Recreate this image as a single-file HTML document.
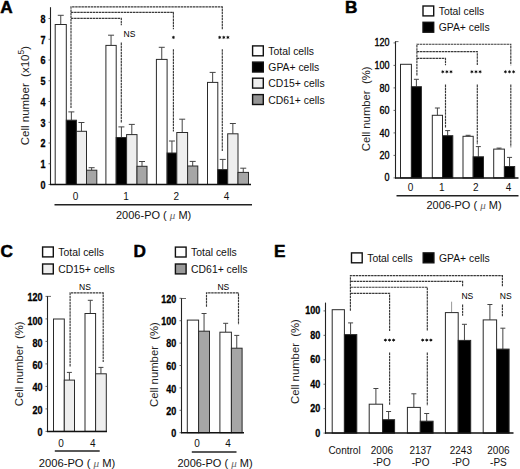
<!DOCTYPE html>
<html><head><meta charset="utf-8"><style>
html,body{margin:0;padding:0;background:#fff;}
body{width:520px;height:469px;overflow:hidden;font-family:"Liberation Sans",sans-serif;}
svg{display:block;}
</style></head><body>
<svg width="520" height="469" viewBox="0 0 520 469">
<rect width="520" height="469" fill="#fff"/>
<text x="0.2" y="12.8" font-family="Liberation Sans" font-size="17.2" font-weight="bold" text-anchor="start" fill="#000" stroke="#000" stroke-width="0.5">A</text>
<line x1="50.5" y1="7.2" x2="50.5" y2="185" stroke="#222" stroke-width="1.1" />
<line x1="48.5" y1="184.5" x2="50.5" y2="184.5" stroke="#444" stroke-width="0.8" />
<text x="45.5" y="188.9" font-family="Liberation Sans" font-size="10" font-weight="bold" text-anchor="end" fill="#000" stroke="#000" stroke-width="0.3" textLength="5" lengthAdjust="spacingAndGlyphs">0</text>
<line x1="48.5" y1="163.75" x2="50.5" y2="163.75" stroke="#444" stroke-width="0.8" />
<text x="45.5" y="168.15" font-family="Liberation Sans" font-size="10" font-weight="bold" text-anchor="end" fill="#000" stroke="#000" stroke-width="0.3" textLength="5" lengthAdjust="spacingAndGlyphs">1</text>
<line x1="48.5" y1="143" x2="50.5" y2="143" stroke="#444" stroke-width="0.8" />
<text x="45.5" y="147.4" font-family="Liberation Sans" font-size="10" font-weight="bold" text-anchor="end" fill="#000" stroke="#000" stroke-width="0.3" textLength="5" lengthAdjust="spacingAndGlyphs">2</text>
<line x1="48.5" y1="122.25" x2="50.5" y2="122.25" stroke="#444" stroke-width="0.8" />
<text x="45.5" y="126.65" font-family="Liberation Sans" font-size="10" font-weight="bold" text-anchor="end" fill="#000" stroke="#000" stroke-width="0.3" textLength="5" lengthAdjust="spacingAndGlyphs">3</text>
<line x1="48.5" y1="101.5" x2="50.5" y2="101.5" stroke="#444" stroke-width="0.8" />
<text x="45.5" y="105.9" font-family="Liberation Sans" font-size="10" font-weight="bold" text-anchor="end" fill="#000" stroke="#000" stroke-width="0.3" textLength="5" lengthAdjust="spacingAndGlyphs">4</text>
<line x1="48.5" y1="80.75" x2="50.5" y2="80.75" stroke="#444" stroke-width="0.8" />
<text x="45.5" y="85.15" font-family="Liberation Sans" font-size="10" font-weight="bold" text-anchor="end" fill="#000" stroke="#000" stroke-width="0.3" textLength="5" lengthAdjust="spacingAndGlyphs">5</text>
<line x1="48.5" y1="60" x2="50.5" y2="60" stroke="#444" stroke-width="0.8" />
<text x="45.5" y="64.4" font-family="Liberation Sans" font-size="10" font-weight="bold" text-anchor="end" fill="#000" stroke="#000" stroke-width="0.3" textLength="5" lengthAdjust="spacingAndGlyphs">6</text>
<line x1="48.5" y1="39.25" x2="50.5" y2="39.25" stroke="#444" stroke-width="0.8" />
<text x="45.5" y="43.65" font-family="Liberation Sans" font-size="10" font-weight="bold" text-anchor="end" fill="#000" stroke="#000" stroke-width="0.3" textLength="5" lengthAdjust="spacingAndGlyphs">7</text>
<line x1="48.5" y1="18.5" x2="50.5" y2="18.5" stroke="#444" stroke-width="0.8" />
<text x="45.5" y="22.9" font-family="Liberation Sans" font-size="10" font-weight="bold" text-anchor="end" fill="#000" stroke="#000" stroke-width="0.3" textLength="5" lengthAdjust="spacingAndGlyphs">8</text>
<text x="0" y="0" font-family="Liberation Sans" font-size="11.5" text-anchor="middle" fill="#222" transform="translate(24.6 95.6) rotate(-90)" dominant-baseline="central">Cell number  (x10<tspan font-size="8.5" dy="-3.2">5</tspan><tspan dy="3.2">)</tspan></text>
<line x1="60.75" y1="24.5" x2="60.75" y2="15.3" stroke="#444" stroke-width="1" />
<line x1="57.75" y1="15.3" x2="63.75" y2="15.3" stroke="#444" stroke-width="1" />
<line x1="71.35" y1="120.2" x2="71.35" y2="111.9" stroke="#444" stroke-width="1" />
<line x1="68.35" y1="111.9" x2="74.35" y2="111.9" stroke="#444" stroke-width="1" />
<line x1="81.45" y1="131.3" x2="81.45" y2="122.5" stroke="#444" stroke-width="1" />
<line x1="78.45" y1="122.5" x2="84.45" y2="122.5" stroke="#444" stroke-width="1" />
<line x1="91.65" y1="170.2" x2="91.65" y2="167.7" stroke="#444" stroke-width="1" />
<line x1="88.65" y1="167.7" x2="94.65" y2="167.7" stroke="#444" stroke-width="1" />
<line x1="111.05" y1="45.4" x2="111.05" y2="35.2" stroke="#444" stroke-width="1" />
<line x1="108.05" y1="35.2" x2="114.05" y2="35.2" stroke="#444" stroke-width="1" />
<line x1="121.4" y1="137.5" x2="121.4" y2="126.9" stroke="#444" stroke-width="1" />
<line x1="118.4" y1="126.9" x2="124.4" y2="126.9" stroke="#444" stroke-width="1" />
<line x1="131.8" y1="134.6" x2="131.8" y2="124.4" stroke="#444" stroke-width="1" />
<line x1="128.8" y1="124.4" x2="134.8" y2="124.4" stroke="#444" stroke-width="1" />
<line x1="142" y1="166.3" x2="142" y2="161.5" stroke="#444" stroke-width="1" />
<line x1="139" y1="161.5" x2="145" y2="161.5" stroke="#444" stroke-width="1" />
<line x1="161.75" y1="59.4" x2="161.75" y2="47.3" stroke="#444" stroke-width="1" />
<line x1="158.75" y1="47.3" x2="164.75" y2="47.3" stroke="#444" stroke-width="1" />
<line x1="171.95" y1="153" x2="171.95" y2="141" stroke="#444" stroke-width="1" />
<line x1="168.95" y1="141" x2="174.95" y2="141" stroke="#444" stroke-width="1" />
<line x1="182.2" y1="132.5" x2="182.2" y2="119.2" stroke="#444" stroke-width="1" />
<line x1="179.2" y1="119.2" x2="185.2" y2="119.2" stroke="#444" stroke-width="1" />
<line x1="192.7" y1="166" x2="192.7" y2="161.4" stroke="#444" stroke-width="1" />
<line x1="189.7" y1="161.4" x2="195.7" y2="161.4" stroke="#444" stroke-width="1" />
<line x1="212.65" y1="82.4" x2="212.65" y2="72.4" stroke="#444" stroke-width="1" />
<line x1="209.65" y1="72.4" x2="215.65" y2="72.4" stroke="#444" stroke-width="1" />
<line x1="222.75" y1="169.6" x2="222.75" y2="159.4" stroke="#444" stroke-width="1" />
<line x1="219.75" y1="159.4" x2="225.75" y2="159.4" stroke="#444" stroke-width="1" />
<line x1="232.85" y1="133.8" x2="232.85" y2="123.5" stroke="#444" stroke-width="1" />
<line x1="229.85" y1="123.5" x2="235.85" y2="123.5" stroke="#444" stroke-width="1" />
<line x1="243.25" y1="172.4" x2="243.25" y2="168.2" stroke="#444" stroke-width="1" />
<line x1="240.25" y1="168.2" x2="246.25" y2="168.2" stroke="#444" stroke-width="1" />
<rect x="55.2" y="24.5" width="11.1" height="160" fill="#ffffff" stroke="#2a2a2a" stroke-width="1"/>
<rect x="66.3" y="120.2" width="10.1" height="64.3" fill="#000000" stroke="#2a2a2a" stroke-width="1"/>
<rect x="76.4" y="131.3" width="10.1" height="53.2" fill="#eeeeee" stroke="#2a2a2a" stroke-width="1"/>
<rect x="86.5" y="170.2" width="10.3" height="14.3" fill="#a6a6a6" stroke="#2a2a2a" stroke-width="1"/>
<rect x="105.9" y="45.4" width="10.3" height="139.1" fill="#ffffff" stroke="#2a2a2a" stroke-width="1"/>
<rect x="116.2" y="137.5" width="10.4" height="47" fill="#000000" stroke="#2a2a2a" stroke-width="1"/>
<rect x="126.6" y="134.6" width="10.4" height="49.9" fill="#eeeeee" stroke="#2a2a2a" stroke-width="1"/>
<rect x="137" y="166.3" width="10" height="18.2" fill="#a6a6a6" stroke="#2a2a2a" stroke-width="1"/>
<rect x="156.4" y="59.4" width="10.7" height="125.1" fill="#ffffff" stroke="#2a2a2a" stroke-width="1"/>
<rect x="167.1" y="153" width="9.7" height="31.5" fill="#000000" stroke="#2a2a2a" stroke-width="1"/>
<rect x="176.8" y="132.5" width="10.8" height="52" fill="#eeeeee" stroke="#2a2a2a" stroke-width="1"/>
<rect x="187.6" y="166" width="10.2" height="18.5" fill="#a6a6a6" stroke="#2a2a2a" stroke-width="1"/>
<rect x="207.5" y="82.4" width="10.3" height="102.1" fill="#ffffff" stroke="#2a2a2a" stroke-width="1"/>
<rect x="217.8" y="169.6" width="9.9" height="14.9" fill="#000000" stroke="#2a2a2a" stroke-width="1"/>
<rect x="227.7" y="133.8" width="10.3" height="50.7" fill="#eeeeee" stroke="#2a2a2a" stroke-width="1"/>
<rect x="238" y="172.4" width="10.5" height="12.1" fill="#a6a6a6" stroke="#2a2a2a" stroke-width="1"/>
<line x1="50" y1="184.5" x2="251" y2="184.5" stroke="#111" stroke-width="1.5" />
<text x="75.6" y="199.5" font-family="Liberation Sans" font-size="10" font-weight="normal" text-anchor="middle" fill="#111" >0</text>
<text x="126" y="199.5" font-family="Liberation Sans" font-size="10" font-weight="normal" text-anchor="middle" fill="#111" >1</text>
<text x="176.4" y="199.5" font-family="Liberation Sans" font-size="10" font-weight="normal" text-anchor="middle" fill="#111" >2</text>
<text x="226.6" y="199.5" font-family="Liberation Sans" font-size="10" font-weight="normal" text-anchor="middle" fill="#111" >4</text>
<line x1="54.5" y1="204.7" x2="252" y2="204.7" stroke="#222" stroke-width="1.5" />
<text x="116" y="218.5" font-family="Liberation Sans" font-size="11" font-weight="normal" text-anchor="start" fill="#111" xml:space="preserve">2006-PO ( <tspan font-family="Liberation Serif" font-style="italic" fill="#666">μ</tspan> M)</text>
<path d="M71 108 V6.8 H222.3 V29.2 M222.3 49.2 V151" fill="none" stroke="#3a3a3a" stroke-width="1.15" stroke-dasharray="2.5 0.6"/>
<path d="M71 12.3 H173.4 V29.2 M173.4 49.2 V131.5" fill="none" stroke="#3a3a3a" stroke-width="1.15" stroke-dasharray="2.5 0.6"/>
<path d="M71 18.3 H121.3 V25.3 M121.3 42.4 V122.5" fill="none" stroke="#3a3a3a" stroke-width="1.15" stroke-dasharray="2.5 0.6"/>
<text x="129.5" y="37" font-family="Liberation Sans" font-size="8.5" font-weight="normal" text-anchor="middle" fill="#000" >NS</text>
<polygon points="173.4,35.45 173.88,36.58 175.09,36.42 174.35,37.4 175.09,38.38 173.88,38.22 173.4,39.35 172.93,38.22 171.71,38.38 172.45,37.4 171.71,36.42 172.93,36.58" fill="#111"/>
<polygon points="219.7,35.45 220.18,36.58 221.39,36.42 220.65,37.4 221.39,38.38 220.18,38.22 219.7,39.35 219.23,38.22 218.01,38.38 218.75,37.4 218.01,36.42 219.23,36.58" fill="#111"/>
<polygon points="223.8,35.45 224.28,36.58 225.49,36.42 224.75,37.4 225.49,38.38 224.28,38.22 223.8,39.35 223.33,38.22 222.11,38.38 222.85,37.4 222.11,36.42 223.33,36.58" fill="#111"/>
<polygon points="227.9,35.45 228.38,36.58 229.59,36.42 228.85,37.4 229.59,38.38 228.38,38.22 227.9,39.35 227.43,38.22 226.21,38.38 226.95,37.4 226.21,36.42 227.43,36.58" fill="#111"/>
<rect x="252.6" y="45.9" width="10.7" height="9.9" fill="#ffffff" stroke="#111" stroke-width="1.4"/>
<text x="268.3" y="54.8" font-family="Liberation Sans" font-size="10.4" font-weight="normal" text-anchor="start" fill="#111" >Total cells</text>
<rect x="252.6" y="62.1" width="10.7" height="9.9" fill="#000000" stroke="#111" stroke-width="1.4"/>
<text x="268.3" y="71" font-family="Liberation Sans" font-size="10.4" font-weight="normal" text-anchor="start" fill="#111" >GPA+ cells</text>
<rect x="252.6" y="78.2" width="10.7" height="9.9" fill="#eeeeee" stroke="#111" stroke-width="1.4"/>
<text x="268.3" y="87.1" font-family="Liberation Sans" font-size="10.4" font-weight="normal" text-anchor="start" fill="#111" >CD15+ cells</text>
<rect x="252.6" y="94.6" width="10.7" height="9.9" fill="#959595" stroke="#111" stroke-width="1.4"/>
<text x="268.3" y="103.5" font-family="Liberation Sans" font-size="10.4" font-weight="normal" text-anchor="start" fill="#111" >CD61+ cells</text>
<text x="345" y="12.8" font-family="Liberation Sans" font-size="17.2" font-weight="bold" text-anchor="start" fill="#000" stroke="#000" stroke-width="0.5">B</text>
<rect x="423" y="6" width="10.7" height="9.9" fill="#ffffff" stroke="#111" stroke-width="1.4"/>
<text x="438.7" y="14.9" font-family="Liberation Sans" font-size="10.4" font-weight="normal" text-anchor="start" fill="#111" >Total cells</text>
<rect x="423" y="22.3" width="10.7" height="9.9" fill="#000000" stroke="#111" stroke-width="1.4"/>
<text x="438.7" y="31.2" font-family="Liberation Sans" font-size="10.4" font-weight="normal" text-anchor="start" fill="#111" >GPA+ cells</text>
<line x1="395.5" y1="41.2" x2="395.5" y2="178.4" stroke="#222" stroke-width="1.1" />
<line x1="395.5" y1="41.6" x2="398.5" y2="41.6" stroke="#444" stroke-width="0.8" />
<line x1="393.5" y1="177.9" x2="395.5" y2="177.9" stroke="#444" stroke-width="0.8" />
<text x="389.6" y="181.4" font-family="Liberation Sans" font-size="10" font-weight="normal" text-anchor="end" fill="#000" stroke="#000" stroke-width="0.35" textLength="5" lengthAdjust="spacingAndGlyphs">0</text>
<line x1="393.5" y1="155.4" x2="395.5" y2="155.4" stroke="#444" stroke-width="0.8" />
<text x="389.6" y="159.1" font-family="Liberation Sans" font-size="10" font-weight="normal" text-anchor="end" fill="#000" stroke="#000" stroke-width="0.35" textLength="10.01" lengthAdjust="spacingAndGlyphs">20</text>
<line x1="393.5" y1="132.9" x2="395.5" y2="132.9" stroke="#444" stroke-width="0.8" />
<text x="389.6" y="136.7" font-family="Liberation Sans" font-size="10" font-weight="normal" text-anchor="end" fill="#000" stroke="#000" stroke-width="0.35" textLength="10.01" lengthAdjust="spacingAndGlyphs">40</text>
<line x1="393.5" y1="110.4" x2="395.5" y2="110.4" stroke="#444" stroke-width="0.8" />
<text x="389.6" y="114.1" font-family="Liberation Sans" font-size="10" font-weight="normal" text-anchor="end" fill="#000" stroke="#000" stroke-width="0.35" textLength="10.01" lengthAdjust="spacingAndGlyphs">60</text>
<line x1="393.5" y1="87.9" x2="395.5" y2="87.9" stroke="#444" stroke-width="0.8" />
<text x="389.6" y="91.5" font-family="Liberation Sans" font-size="10" font-weight="normal" text-anchor="end" fill="#000" stroke="#000" stroke-width="0.35" textLength="10.01" lengthAdjust="spacingAndGlyphs">80</text>
<line x1="393.5" y1="65.4" x2="395.5" y2="65.4" stroke="#444" stroke-width="0.8" />
<text x="389.6" y="68.9" font-family="Liberation Sans" font-size="10" font-weight="normal" text-anchor="end" fill="#000" stroke="#000" stroke-width="0.35" textLength="15.01" lengthAdjust="spacingAndGlyphs">100</text>
<line x1="393.5" y1="42.9" x2="395.5" y2="42.9" stroke="#444" stroke-width="0.8" />
<text x="389.6" y="46.2" font-family="Liberation Sans" font-size="10" font-weight="normal" text-anchor="end" fill="#000" stroke="#000" stroke-width="0.35" textLength="15.01" lengthAdjust="spacingAndGlyphs">120</text>
<text x="0" y="0" font-family="Liberation Sans" font-size="11.3" text-anchor="middle" fill="#222" transform="translate(366 108.9) rotate(-90)" dominant-baseline="central">Cell number  (%)</text>
<line x1="416.4" y1="86.7" x2="416.4" y2="79.3" stroke="#444" stroke-width="1" />
<line x1="413.9" y1="79.3" x2="418.9" y2="79.3" stroke="#444" stroke-width="1" />
<line x1="437.4" y1="115.3" x2="437.4" y2="108" stroke="#444" stroke-width="1" />
<line x1="434.9" y1="108" x2="439.9" y2="108" stroke="#444" stroke-width="1" />
<line x1="447.65" y1="135.7" x2="447.65" y2="130.6" stroke="#444" stroke-width="1" />
<line x1="445.15" y1="130.6" x2="450.15" y2="130.6" stroke="#444" stroke-width="1" />
<line x1="468.1" y1="136.3" x2="468.1" y2="135.3" stroke="#444" stroke-width="1" />
<line x1="465.6" y1="135.3" x2="470.6" y2="135.3" stroke="#444" stroke-width="1" />
<line x1="478.35" y1="156.8" x2="478.35" y2="146.6" stroke="#444" stroke-width="1" />
<line x1="475.85" y1="146.6" x2="480.85" y2="146.6" stroke="#444" stroke-width="1" />
<line x1="499.05" y1="149.1" x2="499.05" y2="148.1" stroke="#444" stroke-width="1" />
<line x1="496.55" y1="148.1" x2="501.55" y2="148.1" stroke="#444" stroke-width="1" />
<line x1="509.55" y1="166.5" x2="509.55" y2="157.4" stroke="#444" stroke-width="1" />
<line x1="507.05" y1="157.4" x2="512.05" y2="157.4" stroke="#444" stroke-width="1" />
<rect x="400.5" y="64.3" width="10.9" height="113.6" fill="#ffffff" stroke="#2a2a2a" stroke-width="1"/>
<rect x="411.4" y="86.7" width="10" height="91.2" fill="#000000" stroke="#2a2a2a" stroke-width="1"/>
<rect x="432.3" y="115.3" width="10.2" height="62.6" fill="#ffffff" stroke="#2a2a2a" stroke-width="1"/>
<rect x="442.5" y="135.7" width="10.3" height="42.2" fill="#000000" stroke="#2a2a2a" stroke-width="1"/>
<rect x="463" y="136.3" width="10.2" height="41.6" fill="#ffffff" stroke="#2a2a2a" stroke-width="1"/>
<rect x="473.2" y="156.8" width="10.3" height="21.1" fill="#000000" stroke="#2a2a2a" stroke-width="1"/>
<rect x="493.7" y="149.1" width="10.7" height="28.8" fill="#ffffff" stroke="#2a2a2a" stroke-width="1"/>
<rect x="504.4" y="166.5" width="10.3" height="11.4" fill="#000000" stroke="#2a2a2a" stroke-width="1"/>
<line x1="395" y1="177.9" x2="518.5" y2="177.9" stroke="#111" stroke-width="1.5" />
<text x="410.5" y="190.5" font-family="Liberation Sans" font-size="10" font-weight="normal" text-anchor="middle" fill="#111" >0</text>
<text x="441.8" y="190.5" font-family="Liberation Sans" font-size="10" font-weight="normal" text-anchor="middle" fill="#111" >1</text>
<text x="475.8" y="190.5" font-family="Liberation Sans" font-size="10" font-weight="normal" text-anchor="middle" fill="#111" >2</text>
<text x="508.6" y="190.5" font-family="Liberation Sans" font-size="10" font-weight="normal" text-anchor="middle" fill="#111" >4</text>
<line x1="396.5" y1="195.8" x2="518.5" y2="195.8" stroke="#222" stroke-width="1.5" />
<text x="426.4" y="209" font-family="Liberation Sans" font-size="11" font-weight="normal" text-anchor="start" fill="#111" xml:space="preserve">2006-PO ( <tspan font-family="Liberation Serif" font-style="italic" fill="#666">μ</tspan> M)</text>
<path d="M416.9 75.5 V44.2 H510.8 V65.2 M510.8 84.4 V147.2" fill="none" stroke="#3a3a3a" stroke-width="1.15" stroke-dasharray="2.5 0.6"/>
<path d="M416.9 51.6 H477.3 V65.2 M477.3 84.4 V144.3" fill="none" stroke="#3a3a3a" stroke-width="1.15" stroke-dasharray="2.5 0.6"/>
<path d="M416.9 58.4 H445.5 V65.2 M445.5 84.4 V128" fill="none" stroke="#3a3a3a" stroke-width="1.15" stroke-dasharray="2.5 0.6"/>
<polygon points="442.8,69.85 443.27,70.98 444.49,70.83 443.75,71.8 444.49,72.77 443.27,72.62 442.8,73.75 442.32,72.62 441.11,72.77 441.85,71.8 441.11,70.83 442.32,70.98" fill="#111"/>
<polygon points="446.9,69.85 447.38,70.98 448.59,70.83 447.85,71.8 448.59,72.77 447.38,72.62 446.9,73.75 446.42,72.62 445.21,72.77 445.95,71.8 445.21,70.83 446.42,70.98" fill="#111"/>
<polygon points="451,69.85 451.47,70.98 452.69,70.83 451.95,71.8 452.69,72.77 451.47,72.62 451,73.75 450.52,72.62 449.31,72.77 450.05,71.8 449.31,70.83 450.52,70.98" fill="#111"/>
<polygon points="471.9,69.85 472.38,70.98 473.59,70.83 472.85,71.8 473.59,72.77 472.38,72.62 471.9,73.75 471.42,72.62 470.21,72.77 470.95,71.8 470.21,70.83 471.42,70.98" fill="#111"/>
<polygon points="476,69.85 476.48,70.98 477.69,70.83 476.95,71.8 477.69,72.77 476.48,72.62 476,73.75 475.52,72.62 474.31,72.77 475.05,71.8 474.31,70.83 475.52,70.98" fill="#111"/>
<polygon points="480.1,69.85 480.57,70.98 481.79,70.83 481.05,71.8 481.79,72.77 480.57,72.62 480.1,73.75 479.62,72.62 478.41,72.77 479.15,71.8 478.41,70.83 479.62,70.98" fill="#111"/>
<polygon points="505.4,69.85 505.88,70.98 507.09,70.83 506.35,71.8 507.09,72.77 505.88,72.62 505.4,73.75 504.92,72.62 503.71,72.77 504.45,71.8 503.71,70.83 504.92,70.98" fill="#111"/>
<polygon points="509.5,69.85 509.98,70.98 511.19,70.83 510.45,71.8 511.19,72.77 509.98,72.62 509.5,73.75 509.02,72.62 507.81,72.77 508.55,71.8 507.81,70.83 509.02,70.98" fill="#111"/>
<polygon points="513.6,69.85 514.08,70.98 515.29,70.83 514.55,71.8 515.29,72.77 514.08,72.62 513.6,73.75 513.12,72.62 511.91,72.77 512.65,71.8 511.91,70.83 513.12,70.98" fill="#111"/>
<text x="0.4" y="256.9" font-family="Liberation Sans" font-size="17.2" font-weight="bold" text-anchor="start" fill="#000" stroke="#000" stroke-width="0.5">C</text>
<rect x="42.6" y="247" width="10.7" height="9.9" fill="#ffffff" stroke="#111" stroke-width="1.4"/>
<text x="58.3" y="255.9" font-family="Liberation Sans" font-size="10.4" font-weight="normal" text-anchor="start" fill="#111" >Total cells</text>
<rect x="42.6" y="264" width="10.7" height="9.9" fill="#eeeeee" stroke="#111" stroke-width="1.4"/>
<text x="58.3" y="272.9" font-family="Liberation Sans" font-size="10.4" font-weight="normal" text-anchor="start" fill="#111" >CD15+ cells</text>
<line x1="47.5" y1="296" x2="47.5" y2="431.9" stroke="#222" stroke-width="1.1" />
<line x1="47.5" y1="296.4" x2="51" y2="296.4" stroke="#444" stroke-width="0.8" />
<line x1="45.5" y1="431.4" x2="47.5" y2="431.4" stroke="#444" stroke-width="0.8" />
<text x="42.4" y="435.8" font-family="Liberation Sans" font-size="10" font-weight="bold" text-anchor="end" fill="#000" stroke="#000" stroke-width="0.3" textLength="5" lengthAdjust="spacingAndGlyphs">0</text>
<line x1="45.5" y1="408.9" x2="47.5" y2="408.9" stroke="#444" stroke-width="0.8" />
<text x="42.4" y="413.7" font-family="Liberation Sans" font-size="10" font-weight="bold" text-anchor="end" fill="#000" stroke="#000" stroke-width="0.3" textLength="10.01" lengthAdjust="spacingAndGlyphs">20</text>
<line x1="45.5" y1="386.4" x2="47.5" y2="386.4" stroke="#444" stroke-width="0.8" />
<text x="42.4" y="391.1" font-family="Liberation Sans" font-size="10" font-weight="bold" text-anchor="end" fill="#000" stroke="#000" stroke-width="0.3" textLength="10.01" lengthAdjust="spacingAndGlyphs">40</text>
<line x1="45.5" y1="363.9" x2="47.5" y2="363.9" stroke="#444" stroke-width="0.8" />
<text x="42.4" y="369.4" font-family="Liberation Sans" font-size="10" font-weight="bold" text-anchor="end" fill="#000" stroke="#000" stroke-width="0.3" textLength="10.01" lengthAdjust="spacingAndGlyphs">60</text>
<line x1="45.5" y1="341.4" x2="47.5" y2="341.4" stroke="#444" stroke-width="0.8" />
<text x="42.4" y="346.8" font-family="Liberation Sans" font-size="10" font-weight="bold" text-anchor="end" fill="#000" stroke="#000" stroke-width="0.3" textLength="10.01" lengthAdjust="spacingAndGlyphs">80</text>
<line x1="45.5" y1="318.9" x2="47.5" y2="318.9" stroke="#444" stroke-width="0.8" />
<text x="42.4" y="324.6" font-family="Liberation Sans" font-size="10" font-weight="bold" text-anchor="end" fill="#000" stroke="#000" stroke-width="0.3" textLength="15.01" lengthAdjust="spacingAndGlyphs">100</text>
<line x1="45.5" y1="296.4" x2="47.5" y2="296.4" stroke="#444" stroke-width="0.8" />
<text x="42.4" y="301.2" font-family="Liberation Sans" font-size="10" font-weight="bold" text-anchor="end" fill="#000" stroke="#000" stroke-width="0.3" textLength="15.01" lengthAdjust="spacingAndGlyphs">120</text>
<text x="0" y="0" font-family="Liberation Sans" font-size="11.3" text-anchor="middle" fill="#222" transform="translate(19.4 363.8) rotate(-90)" dominant-baseline="central">Cell number  (%)</text>
<line x1="69.4" y1="380.1" x2="69.4" y2="372.4" stroke="#444" stroke-width="1" />
<line x1="66.9" y1="372.4" x2="71.9" y2="372.4" stroke="#444" stroke-width="1" />
<line x1="90.3" y1="313.5" x2="90.3" y2="300.3" stroke="#444" stroke-width="1" />
<line x1="87.8" y1="300.3" x2="92.8" y2="300.3" stroke="#444" stroke-width="1" />
<line x1="100.95" y1="373.8" x2="100.95" y2="367.4" stroke="#444" stroke-width="1" />
<line x1="98.45" y1="367.4" x2="103.45" y2="367.4" stroke="#444" stroke-width="1" />
<rect x="53.5" y="319" width="10.8" height="112.4" fill="#ffffff" stroke="#2a2a2a" stroke-width="1"/>
<rect x="64.3" y="380.1" width="10.2" height="51.3" fill="#eeeeee" stroke="#2a2a2a" stroke-width="1"/>
<rect x="85" y="313.5" width="10.6" height="117.9" fill="#ffffff" stroke="#2a2a2a" stroke-width="1"/>
<rect x="95.6" y="373.8" width="10.7" height="57.6" fill="#eeeeee" stroke="#2a2a2a" stroke-width="1"/>
<line x1="47" y1="431.4" x2="107" y2="431.4" stroke="#111" stroke-width="1.5" />
<text x="61.1" y="447" font-family="Liberation Sans" font-size="10" font-weight="normal" text-anchor="middle" fill="#111" >0</text>
<text x="92.8" y="447" font-family="Liberation Sans" font-size="10" font-weight="normal" text-anchor="middle" fill="#111" >4</text>
<line x1="54.8" y1="450.9" x2="99.7" y2="450.9" stroke="#222" stroke-width="1.5" />
<text x="38.8" y="466.5" font-family="Liberation Sans" font-size="11.2" font-weight="normal" text-anchor="start" fill="#111" xml:space="preserve">2006-PO ( <tspan font-family="Liberation Serif" font-style="italic" fill="#666">μ</tspan> M)</text>
<path d="M70.1 366.4 V292.8 H103.2 V362.1" fill="none" stroke="#3a3a3a" stroke-width="1.15" stroke-dasharray="2.5 0.6"/>
<text x="85" y="290" font-family="Liberation Sans" font-size="8.5" font-weight="normal" text-anchor="middle" fill="#000" >NS</text>
<text x="133.4" y="256.9" font-family="Liberation Sans" font-size="17.2" font-weight="bold" text-anchor="start" fill="#000" stroke="#000" stroke-width="0.5">D</text>
<rect x="175.4" y="247.1" width="10.7" height="9.9" fill="#ffffff" stroke="#111" stroke-width="1.4"/>
<text x="191.1" y="256" font-family="Liberation Sans" font-size="10.4" font-weight="normal" text-anchor="start" fill="#111" >Total cells</text>
<rect x="175.4" y="264" width="10.7" height="9.9" fill="#9a9a9a" stroke="#111" stroke-width="1.4"/>
<text x="191.1" y="272.9" font-family="Liberation Sans" font-size="10.4" font-weight="normal" text-anchor="start" fill="#111" >CD61+ cells</text>
<line x1="181.5" y1="298.1" x2="181.5" y2="433.2" stroke="#222" stroke-width="1.1" />
<line x1="181.5" y1="298.5" x2="186" y2="298.5" stroke="#444" stroke-width="0.8" />
<line x1="179.5" y1="432.7" x2="181.5" y2="432.7" stroke="#444" stroke-width="0.8" />
<text x="176.3" y="436.9" font-family="Liberation Sans" font-size="10" font-weight="bold" text-anchor="end" fill="#000" stroke="#000" stroke-width="0.3" textLength="5" lengthAdjust="spacingAndGlyphs">0</text>
<line x1="179.5" y1="410.3" x2="181.5" y2="410.3" stroke="#444" stroke-width="0.8" />
<text x="176.3" y="414.7" font-family="Liberation Sans" font-size="10" font-weight="bold" text-anchor="end" fill="#000" stroke="#000" stroke-width="0.3" textLength="10.01" lengthAdjust="spacingAndGlyphs">20</text>
<line x1="179.5" y1="387.9" x2="181.5" y2="387.9" stroke="#444" stroke-width="0.8" />
<text x="176.3" y="392.6" font-family="Liberation Sans" font-size="10" font-weight="bold" text-anchor="end" fill="#000" stroke="#000" stroke-width="0.3" textLength="10.01" lengthAdjust="spacingAndGlyphs">40</text>
<line x1="179.5" y1="365.5" x2="181.5" y2="365.5" stroke="#444" stroke-width="0.8" />
<text x="176.3" y="370" font-family="Liberation Sans" font-size="10" font-weight="bold" text-anchor="end" fill="#000" stroke="#000" stroke-width="0.3" textLength="10.01" lengthAdjust="spacingAndGlyphs">60</text>
<line x1="179.5" y1="343.1" x2="181.5" y2="343.1" stroke="#444" stroke-width="0.8" />
<text x="176.3" y="347.1" font-family="Liberation Sans" font-size="10" font-weight="bold" text-anchor="end" fill="#000" stroke="#000" stroke-width="0.3" textLength="10.01" lengthAdjust="spacingAndGlyphs">80</text>
<line x1="179.5" y1="320.7" x2="181.5" y2="320.7" stroke="#444" stroke-width="0.8" />
<text x="176.3" y="324.8" font-family="Liberation Sans" font-size="10" font-weight="bold" text-anchor="end" fill="#000" stroke="#000" stroke-width="0.3" textLength="15.01" lengthAdjust="spacingAndGlyphs">100</text>
<line x1="179.5" y1="298.3" x2="181.5" y2="298.3" stroke="#444" stroke-width="0.8" />
<text x="176.3" y="302.5" font-family="Liberation Sans" font-size="10" font-weight="bold" text-anchor="end" fill="#000" stroke="#000" stroke-width="0.3" textLength="15.01" lengthAdjust="spacingAndGlyphs">120</text>
<text x="0" y="0" font-family="Liberation Sans" font-size="11.3" text-anchor="middle" fill="#222" transform="translate(153.5 364.6) rotate(-90)" dominant-baseline="central">Cell number  (%)</text>
<line x1="204.05" y1="331.2" x2="204.05" y2="313.5" stroke="#444" stroke-width="1" />
<line x1="201.55" y1="313.5" x2="206.55" y2="313.5" stroke="#444" stroke-width="1" />
<line x1="225.65" y1="332.2" x2="225.65" y2="323.3" stroke="#444" stroke-width="1" />
<line x1="223.15" y1="323.3" x2="228.15" y2="323.3" stroke="#444" stroke-width="1" />
<line x1="236.75" y1="348.2" x2="236.75" y2="335.4" stroke="#444" stroke-width="1" />
<line x1="234.25" y1="335.4" x2="239.25" y2="335.4" stroke="#444" stroke-width="1" />
<rect x="187.3" y="320.1" width="11.3" height="112.6" fill="#ffffff" stroke="#2a2a2a" stroke-width="1"/>
<rect x="198.6" y="331.2" width="10.9" height="101.5" fill="#a6a6a6" stroke="#2a2a2a" stroke-width="1"/>
<rect x="219.9" y="332.2" width="11.5" height="100.5" fill="#ffffff" stroke="#2a2a2a" stroke-width="1"/>
<rect x="231.4" y="348.2" width="10.7" height="84.5" fill="#a6a6a6" stroke="#2a2a2a" stroke-width="1"/>
<line x1="181" y1="432.7" x2="244" y2="432.7" stroke="#111" stroke-width="1.5" />
<text x="197" y="447.3" font-family="Liberation Sans" font-size="10" font-weight="normal" text-anchor="middle" fill="#111" >0</text>
<text x="228.1" y="447.3" font-family="Liberation Sans" font-size="10" font-weight="normal" text-anchor="middle" fill="#111" >4</text>
<line x1="191.8" y1="452.1" x2="236.5" y2="452.1" stroke="#222" stroke-width="1.5" />
<text x="177.4" y="466.5" font-family="Liberation Sans" font-size="11" font-weight="normal" text-anchor="start" fill="#111" xml:space="preserve">2006-PO ( <tspan font-family="Liberation Serif" font-style="italic" fill="#666">μ</tspan> M)</text>
<path d="M206.5 306.7 V292.8 H238.5 V324.8" fill="none" stroke="#3a3a3a" stroke-width="1.15" stroke-dasharray="2.5 0.6"/>
<text x="223.3" y="289.7" font-family="Liberation Sans" font-size="8.5" font-weight="normal" text-anchor="middle" fill="#000" >NS</text>
<text x="273.9" y="257.1" font-family="Liberation Sans" font-size="17.2" font-weight="bold" text-anchor="start" fill="#000" stroke="#000" stroke-width="0.5">E</text>
<rect x="351.5" y="252.9" width="10.7" height="9.9" fill="#ffffff" stroke="#111" stroke-width="1.4"/>
<text x="367.2" y="261.8" font-family="Liberation Sans" font-size="10.4" font-weight="normal" text-anchor="start" fill="#111" >Total cells</text>
<rect x="423.2" y="252.9" width="10.7" height="9.9" fill="#000000" stroke="#111" stroke-width="1.4"/>
<text x="438.9" y="261.8" font-family="Liberation Sans" font-size="10.4" font-weight="normal" text-anchor="start" fill="#111" >GPA+ cells</text>
<line x1="325.5" y1="302.6" x2="325.5" y2="433.6" stroke="#222" stroke-width="1.1" />
<line x1="323.5" y1="433.1" x2="325.5" y2="433.1" stroke="#444" stroke-width="0.8" />
<text x="320.3" y="436.6" font-family="Liberation Sans" font-size="10" font-weight="bold" text-anchor="end" fill="#000" stroke="#000" stroke-width="0.3" textLength="5" lengthAdjust="spacingAndGlyphs">0</text>
<line x1="323.5" y1="408.66" x2="325.5" y2="408.66" stroke="#444" stroke-width="0.8" />
<text x="320.3" y="412.4" font-family="Liberation Sans" font-size="10" font-weight="bold" text-anchor="end" fill="#000" stroke="#000" stroke-width="0.3" textLength="10.01" lengthAdjust="spacingAndGlyphs">20</text>
<line x1="323.5" y1="384.22" x2="325.5" y2="384.22" stroke="#444" stroke-width="0.8" />
<text x="320.3" y="387.6" font-family="Liberation Sans" font-size="10" font-weight="bold" text-anchor="end" fill="#000" stroke="#000" stroke-width="0.3" textLength="10.01" lengthAdjust="spacingAndGlyphs">40</text>
<line x1="323.5" y1="359.78" x2="325.5" y2="359.78" stroke="#444" stroke-width="0.8" />
<text x="320.3" y="363.4" font-family="Liberation Sans" font-size="10" font-weight="bold" text-anchor="end" fill="#000" stroke="#000" stroke-width="0.3" textLength="10.01" lengthAdjust="spacingAndGlyphs">60</text>
<line x1="323.5" y1="335.34" x2="325.5" y2="335.34" stroke="#444" stroke-width="0.8" />
<text x="320.3" y="338.6" font-family="Liberation Sans" font-size="10" font-weight="bold" text-anchor="end" fill="#000" stroke="#000" stroke-width="0.3" textLength="10.01" lengthAdjust="spacingAndGlyphs">80</text>
<line x1="323.5" y1="310.9" x2="325.5" y2="310.9" stroke="#444" stroke-width="0.8" />
<text x="320.3" y="314.1" font-family="Liberation Sans" font-size="10" font-weight="bold" text-anchor="end" fill="#000" stroke="#000" stroke-width="0.3" textLength="15.01" lengthAdjust="spacingAndGlyphs">100</text>
<text x="0" y="0" font-family="Liberation Sans" font-size="11.3" text-anchor="middle" fill="#222" transform="translate(294.7 361.6) rotate(-90)" dominant-baseline="central">Cell number  (%)</text>
<line x1="451.6" y1="312.6" x2="451.6" y2="301.7" stroke="#999" stroke-width="1" />
<line x1="350.6" y1="334.6" x2="350.6" y2="322.9" stroke="#444" stroke-width="1" />
<line x1="348.1" y1="322.9" x2="353.1" y2="322.9" stroke="#444" stroke-width="1" />
<line x1="375.9" y1="404.2" x2="375.9" y2="388.5" stroke="#444" stroke-width="1" />
<line x1="373.4" y1="388.5" x2="378.4" y2="388.5" stroke="#444" stroke-width="1" />
<line x1="388.6" y1="419.7" x2="388.6" y2="411.5" stroke="#444" stroke-width="1" />
<line x1="386.1" y1="411.5" x2="391.1" y2="411.5" stroke="#444" stroke-width="1" />
<line x1="413.85" y1="407.4" x2="413.85" y2="393.8" stroke="#444" stroke-width="1" />
<line x1="411.35" y1="393.8" x2="416.35" y2="393.8" stroke="#444" stroke-width="1" />
<line x1="426.7" y1="421.2" x2="426.7" y2="413.5" stroke="#444" stroke-width="1" />
<line x1="424.2" y1="413.5" x2="429.2" y2="413.5" stroke="#444" stroke-width="1" />
<line x1="464.45" y1="340.4" x2="464.45" y2="324.3" stroke="#444" stroke-width="1" />
<line x1="461.95" y1="324.3" x2="466.95" y2="324.3" stroke="#444" stroke-width="1" />
<line x1="489.9" y1="319.9" x2="489.9" y2="304.5" stroke="#444" stroke-width="1" />
<line x1="487.4" y1="304.5" x2="492.4" y2="304.5" stroke="#444" stroke-width="1" />
<line x1="502.85" y1="349.1" x2="502.85" y2="328.2" stroke="#444" stroke-width="1" />
<line x1="500.35" y1="328.2" x2="505.35" y2="328.2" stroke="#444" stroke-width="1" />
<rect x="332.2" y="309.7" width="12.2" height="123.4" fill="#ffffff" stroke="#2a2a2a" stroke-width="1"/>
<rect x="344.4" y="334.6" width="12.4" height="98.5" fill="#000000" stroke="#2a2a2a" stroke-width="1"/>
<rect x="369.2" y="404.2" width="13.4" height="28.9" fill="#ffffff" stroke="#2a2a2a" stroke-width="1"/>
<rect x="382.6" y="419.7" width="12" height="13.4" fill="#000000" stroke="#2a2a2a" stroke-width="1"/>
<rect x="407.4" y="407.4" width="12.9" height="25.7" fill="#ffffff" stroke="#2a2a2a" stroke-width="1"/>
<rect x="420.3" y="421.2" width="12.8" height="11.9" fill="#000000" stroke="#2a2a2a" stroke-width="1"/>
<rect x="445.4" y="312.6" width="12.8" height="120.5" fill="#ffffff" stroke="#2a2a2a" stroke-width="1"/>
<rect x="458.2" y="340.4" width="12.5" height="92.7" fill="#000000" stroke="#2a2a2a" stroke-width="1"/>
<rect x="483.2" y="319.9" width="13.4" height="113.2" fill="#ffffff" stroke="#2a2a2a" stroke-width="1"/>
<rect x="496.6" y="349.1" width="12.5" height="84" fill="#000000" stroke="#2a2a2a" stroke-width="1"/>
<line x1="325" y1="433.1" x2="513.5" y2="433.1" stroke="#111" stroke-width="1.5" />
<text x="344.5" y="453.8" font-family="Liberation Sans" font-size="10" font-weight="normal" text-anchor="middle" fill="#111" >Control</text>
<text x="381.9" y="453.8" font-family="Liberation Sans" font-size="10" font-weight="normal" text-anchor="middle" fill="#111" >2006</text>
<text x="381.9" y="465.6" font-family="Liberation Sans" font-size="10" font-weight="normal" text-anchor="middle" fill="#111" >-PO</text>
<text x="420.55" y="453.8" font-family="Liberation Sans" font-size="10" font-weight="normal" text-anchor="middle" fill="#111" >2137</text>
<text x="420.55" y="465.6" font-family="Liberation Sans" font-size="10" font-weight="normal" text-anchor="middle" fill="#111" >-PO</text>
<text x="460.85" y="453.8" font-family="Liberation Sans" font-size="10" font-weight="normal" text-anchor="middle" fill="#111" >2243</text>
<text x="460.85" y="465.6" font-family="Liberation Sans" font-size="10" font-weight="normal" text-anchor="middle" fill="#111" >-PO</text>
<text x="498.45" y="453.8" font-family="Liberation Sans" font-size="10" font-weight="normal" text-anchor="middle" fill="#111" >2006</text>
<text x="498.45" y="465.6" font-family="Liberation Sans" font-size="10" font-weight="normal" text-anchor="middle" fill="#111" >-PS</text>
<path d="M350.4 310.7 V275.6 H502.4 V286.3 M502.4 304.5 V317" fill="none" stroke="#3a3a3a" stroke-width="1.15" stroke-dasharray="2.5 0.6"/>
<path d="M350.4 281.3 H462.6 V286.3 M462.6 304.5 V315.7" fill="none" stroke="#3a3a3a" stroke-width="1.15" stroke-dasharray="2.5 0.6"/>
<path d="M350.4 287.2 H427.3 V331.2 M427.3 352.6 V405.4" fill="none" stroke="#3a3a3a" stroke-width="1.15" stroke-dasharray="2.5 0.6"/>
<path d="M350.4 293.3 H389.6 V331.2 M389.6 352.6 V404.9" fill="none" stroke="#3a3a3a" stroke-width="1.15" stroke-dasharray="2.5 0.6"/>
<text x="467.3" y="299.3" font-family="Liberation Sans" font-size="8.5" font-weight="normal" text-anchor="middle" fill="#000" >NS</text>
<text x="505.7" y="299.3" font-family="Liberation Sans" font-size="8.5" font-weight="normal" text-anchor="middle" fill="#000" >NS</text>
<polygon points="385.4,338.15 385.88,339.28 387.09,339.12 386.35,340.1 387.09,341.08 385.88,340.92 385.4,342.05 384.92,340.92 383.71,341.08 384.45,340.1 383.71,339.12 384.92,339.28" fill="#111"/>
<polygon points="389.5,338.15 389.98,339.28 391.19,339.12 390.45,340.1 391.19,341.08 389.98,340.92 389.5,342.05 389.02,340.92 387.81,341.08 388.55,340.1 387.81,339.12 389.02,339.28" fill="#111"/>
<polygon points="393.6,338.15 394.07,339.28 395.29,339.12 394.55,340.1 395.29,341.08 394.07,340.92 393.6,342.05 393.12,340.92 391.91,341.08 392.65,340.1 391.91,339.12 393.12,339.28" fill="#111"/>
<polygon points="422.7,338.15 423.18,339.28 424.39,339.12 423.65,340.1 424.39,341.08 423.18,340.92 422.7,342.05 422.22,340.92 421.01,341.08 421.75,340.1 421.01,339.12 422.22,339.28" fill="#111"/>
<polygon points="426.8,338.15 427.28,339.28 428.49,339.12 427.75,340.1 428.49,341.08 427.28,340.92 426.8,342.05 426.32,340.92 425.11,341.08 425.85,340.1 425.11,339.12 426.32,339.28" fill="#111"/>
<polygon points="430.9,338.15 431.38,339.28 432.59,339.12 431.85,340.1 432.59,341.08 431.38,340.92 430.9,342.05 430.42,340.92 429.21,341.08 429.95,340.1 429.21,339.12 430.42,339.28" fill="#111"/>
</svg>
</body></html>
